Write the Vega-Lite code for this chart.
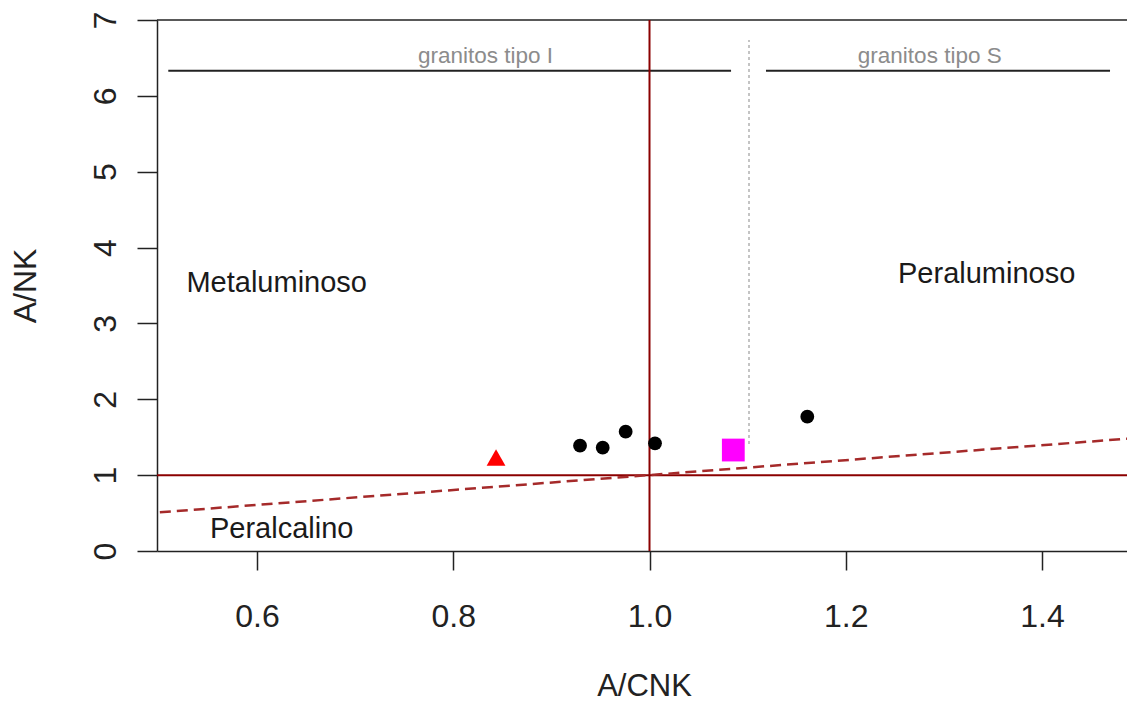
{
  "$schema": "https://vega.github.io/schema/vega-lite/v6.json",
  "width": 970,
  "height": 531,
  "autosize": {"type": "none"},
  "padding": {"left": 157, "top": 20, "right": 0, "bottom": 153},
  "background": "white",
  "config": {
    "view": {"stroke": null},
    "font": "Liberation Sans",
    "axis": {"grid": false}
  },
  "encoding": {
    "x": {
      "type": "quantitative",
      "scale": {"domain": [0.4981, 1.4866], "nice": false, "zero": false},
      "axis": {
        "title": "A/CNK",
        "values": [0.6, 0.8, 1.0, 1.2, 1.4],
        "format": ".1f",
        "labelFont": "Liberation Sans",
        "labelFontSize": 32,
        "labelColor": "#222",
        "labelPadding": 31,
        "tickSize": 19,
        "tickWidth": 1.5,
        "tickColor": "#222",
        "domainColor": "#222",
        "domainWidth": 1.5,
        "titleFont": "Liberation Sans",
        "titleFontSize": 31,
        "titleFontWeight": "normal",
        "titleColor": "#222",
        "titleBaseline": "alphabetic",
        "titleAlign": "center",
        "titleX": 487,
        "titleY": 144
      }
    },
    "y": {
      "type": "quantitative",
      "scale": {"domain": [0, 7], "nice": false, "zero": false},
      "axis": {
        "title": "A/NK",
        "values": [0, 1, 2, 3, 4, 5, 6, 7],
        "labelFont": "Liberation Sans",
        "labelFontSize": 32,
        "labelColor": "#222",
        "labelAngle": -90,
        "labelAlign": "center",
        "labelBaseline": "alphabetic",
        "labelPadding": 22,
        "tickSize": 20,
        "tickWidth": 1.5,
        "tickColor": "#222",
        "domainColor": "#222",
        "domainWidth": 1.5,
        "titleFont": "Liberation Sans",
        "titleFontSize": 32,
        "titleFontWeight": "normal",
        "titleColor": "#222",
        "titleAngle": -90,
        "titleBaseline": "alphabetic",
        "titleAlign": "center",
        "titleX": -122,
        "titleY": 265.5
      }
    }
  },
  "layer": [
    {
      "data": {"values": [{"y": 7}]},
      "mark": {"type": "rule", "color": "#222", "strokeWidth": 1.5},
      "encoding": {"y": {"field": "y", "type": "quantitative"}}
    },
    {
      "data": {"values": [
        {"x": 0.5096, "x2": 1.0831, "y": 6.332},
        {"x": 1.1187, "x2": 1.4693, "y": 6.332}
      ]},
      "mark": {"type": "rule", "color": "#222", "strokeWidth": 2},
      "encoding": {
        "x": {"field": "x", "type": "quantitative"},
        "x2": {"field": "x2"},
        "y": {"field": "y", "type": "quantitative"}
      }
    },
    {
      "data": {"values": [{"x": 1.1014, "y": 1.41, "y2": 6.736}]},
      "mark": {"type": "rule", "color": "#c4c4c4", "strokeWidth": 2, "strokeDash": [3, 3]},
      "encoding": {
        "x": {"field": "x", "type": "quantitative"},
        "y": {"field": "y", "type": "quantitative"},
        "y2": {"field": "y2"}
      }
    },
    {
      "data": {"values": [{"x": 1.0}]},
      "mark": {"type": "rule", "color": "#8B0000", "strokeWidth": 2},
      "encoding": {"x": {"field": "x", "type": "quantitative"}}
    },
    {
      "data": {"values": [{"y": 1.0}]},
      "mark": {"type": "rule", "color": "#8B0000", "strokeWidth": 2},
      "encoding": {"y": {"field": "y", "type": "quantitative"}}
    },
    {
      "data": {"values": [{"x": 0.501, "y": 0.51}, {"x": 1.4866, "y": 1.48}]},
      "mark": {"type": "line", "color": "#A52A2A", "strokeWidth": 2.5, "strokeDash": [11, 6], "clip": true},
      "encoding": {
        "x": {"field": "x", "type": "quantitative"},
        "y": {"field": "y", "type": "quantitative"}
      }
    },
    {
      "data": {"values": [
        {"x": 0.8436, "y": 1.233, "grupo": "B"},
        {"x": 0.9292, "y": 1.388, "grupo": "A"},
        {"x": 0.9523, "y": 1.362, "grupo": "A"},
        {"x": 0.9757, "y": 1.573, "grupo": "A"},
        {"x": 1.0056, "y": 1.420, "grupo": "A"},
        {"x": 1.1608, "y": 1.770, "grupo": "A"},
        {"x": 1.0854, "y": 1.331, "grupo": "C"}
      ]},
      "mark": {"type": "point", "filled": true, "opacity": 1, "strokeWidth": 0},
      "encoding": {
        "x": {"field": "x", "type": "quantitative"},
        "y": {"field": "y", "type": "quantitative"},
        "shape": {"field": "grupo", "type": "nominal", "scale": {"domain": ["A", "B", "C"], "range": ["circle", "triangle-up", "square"]}, "legend": null},
        "color": {"field": "grupo", "type": "nominal", "scale": {"domain": ["A", "B", "C"], "range": ["#000000", "#FF0000", "#FF00FF"]}, "legend": null},
        "size": {"field": "grupo", "type": "nominal", "scale": {"domain": ["A", "B", "C"], "range": [190, 520, 225]}, "legend": null}
      }
    },
    {
      "data": {"values": [
        {"x": 0.8329, "y": 6.433, "t": "granitos tipo I"},
        {"x": 1.2856, "y": 6.433, "t": "granitos tipo S"}
      ]},
      "mark": {"type": "text", "font": "Liberation Sans", "fontSize": 22.5, "color": "#8c8c8c", "align": "center", "baseline": "alphabetic"},
      "encoding": {
        "x": {"field": "x", "type": "quantitative"},
        "y": {"field": "y", "type": "quantitative"},
        "text": {"field": "t"}
      }
    },
    {
      "data": {"values": [
        {"x": 0.6201, "y": 3.418, "t": "Metaluminoso"},
        {"x": 1.3436, "y": 3.529, "t": "Peraluminoso"},
        {"x": 0.6252, "y": 0.167, "t": "Peralcalino"}
      ]},
      "mark": {"type": "text", "font": "Liberation Sans", "fontSize": 29, "color": "#1a1a1a", "align": "center", "baseline": "alphabetic"},
      "encoding": {
        "x": {"field": "x", "type": "quantitative"},
        "y": {"field": "y", "type": "quantitative"},
        "text": {"field": "t"}
      }
    }
  ]
}
